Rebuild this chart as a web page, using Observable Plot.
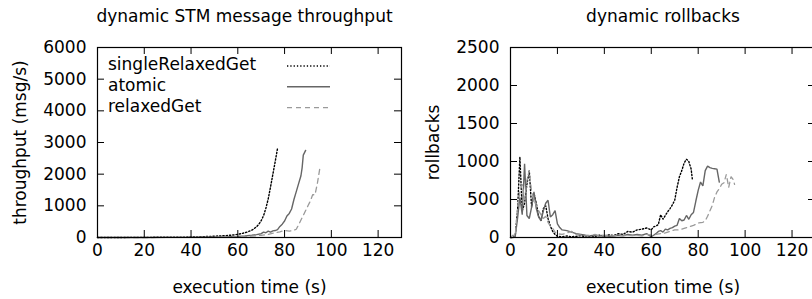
<!DOCTYPE html>
<html>
<head>
<meta charset="utf-8">
<script src="https://cdn.jsdelivr.net/npm/d3@7"></script>
<script src="https://cdn.jsdelivr.net/npm/@observablehq/plot@0.6"></script>
<style>
  html, body { margin: 0; padding: 0; background: #fff; overflow: hidden; }
  #wrap { position: relative; width: 812px; height: 299px; overflow: hidden; }
  #left, #right { position: absolute; top: 0; height: 299px; }
  #left { left: 0; width: 406px; }
  #right { left: 406px; width: 412px; }
  svg { display: block; max-width: none !important; }
</style>
</head>
<body>
<div id="wrap"><div id="left"></div><div id="right"></div></div>
<script>
// ---------- data ----------
const seriesNames = ["singleRelaxedGet", "atomic", "relaxedGet"];
const xTicks = [0, 20, 40, 60, 80, 100, 120];
const thrTicks = [0, 1000, 2000, 3000, 4000, 5000, 6000];
const rbTicks = [0, 500, 1000, 1500, 2000, 2500];

// throughput (msg/s) vs execution time (s)
const thrT_single = [0, 10, 20, 30, 35, 40, 45, 50, 55, 58, 60, 62, 64, 66, 67, 68, 69, 70, 71, 72, 73, 74, 75, 76, 77];
const thrV_single = [0, 2, 4, 8, 10, 15, 25, 40, 60, 80, 100, 130, 170, 230, 280, 340, 420, 530, 690, 920, 1220, 1600, 2000, 2400, 2820];
const thrT_atomic = [0, 10, 20, 30, 40, 45, 50, 55, 60, 63, 66, 68, 70, 71, 72, 73, 74, 75, 76, 77, 78, 79, 80, 81, 82, 83, 84, 85, 86, 87, 87.5, 88, 89];
const thrV_atomic = [0, 0, 2, 3, 5, 8, 12, 20, 35, 50, 70, 90, 120, 170, 150, 200, 170, 210, 220, 250, 350, 420, 520, 680, 760, 900, 1200, 1450, 1700, 1950, 2200, 2600, 2750];
const thrT_relaxed = [0, 10, 20, 30, 40, 50, 55, 60, 65, 70, 73, 76, 78, 80, 82, 84, 85, 86, 87, 88, 89, 90, 91, 92, 93, 94, 95, 96];
const thrV_relaxed = [0, 0, 0, 2, 4, 6, 10, 20, 40, 70, 100, 150, 180, 220, 200, 230, 260, 400, 550, 700, 850, 1000, 1150, 1350, 1350, 1700, 2150, 2100];

// rollbacks vs execution time (s)
const rbT_single = [0, 1, 2, 3, 4, 5, 6, 7, 8, 9, 10, 11, 12, 13, 14, 15, 16, 17, 18, 19, 20, 22, 24, 26, 28, 30, 32, 34, 36, 38, 40, 42, 44, 46, 48, 50, 52, 54, 56, 58, 60, 61, 62, 63, 64, 65, 66, 67, 68, 69, 70, 71, 72, 73, 74, 75, 76, 77, 77.5];
const rbV_single = [0, 0, 20, 350, 1060, 350, 450, 700, 880, 400, 580, 450, 280, 220, 380, 420, 250, 150, 80, 40, 15, 10, 20, 10, 15, 25, 10, 20, 15, 30, 20, 35, 25, 50, 40, 80, 70, 100, 110, 125, 100, 140, 150, 170, 300, 240, 290, 340, 380, 430, 490, 660, 800, 880, 980, 1030, 1000, 900, 770];
const rbT_atomic = [0, 1, 2, 3, 4, 5, 6, 7, 8, 9, 10, 11, 12, 13, 14, 15, 16, 17, 18, 19, 20, 21, 22, 24, 26, 28, 30, 32, 34, 36, 38, 40, 42, 44, 46, 48, 50, 52, 54, 56, 58, 60, 61, 62, 63, 64, 65, 66, 67, 68, 69, 70, 71, 72, 73, 74, 75, 76, 77, 78, 79, 80, 81, 82, 83, 84, 85, 86, 87, 88, 89];
const rbV_atomic = [0, 0, 10, 250, 530, 300, 970, 290, 250, 400, 600, 380, 270, 220, 350, 450, 490, 270, 300, 355, 180, 130, 100, 90, 70, 50, 40, 30, 25, 30, 20, 25, 15, 20, 30, 25, 40, 30, 40, 30, 50, 10, 30, 50, 80, 90, 70, 110, 100, 120, 130, 150, 160, 250, 220, 230, 290, 240, 300, 330, 480, 620, 730, 680, 880, 940, 920, 910, 905, 900, 730];
const rbT_relaxed = [0, 1, 2, 3, 4, 5, 6, 7, 8, 9, 10, 11, 12, 13, 14, 15, 16, 17, 18, 19, 20, 22, 24, 26, 28, 30, 32, 34, 36, 38, 40, 42, 44, 46, 48, 50, 52, 54, 56, 58, 60, 62, 64, 66, 68, 70, 72, 74, 76, 78, 80, 82, 83, 84, 85, 86, 87, 88, 89, 90, 91, 92, 93, 94, 95, 95.5];
const rbV_relaxed = [0, 30, 20, 400, 600, 700, 500, 750, 880, 600, 500, 420, 350, 300, 250, 280, 200, 150, 120, 70, 50, 40, 60, 80, 40, 30, 20, 25, 40, 20, 30, 20, 25, 30, 20, 30, 25, 30, 20, 40, 30, 40, 50, 60, 80, 100, 100, 120, 140, 160, 190, 200, 220, 280, 350, 420, 530, 600, 640, 700, 720, 830, 660, 800, 760, 700];

// ---------- styles ----------
const styles = {
  singleRelaxedGet: {stroke: "#000000", strokeDasharray: "1.3,2", strokeWidth: 1.4},
  atomic: {stroke: "#666666", strokeDasharray: null, strokeWidth: 1.4},
  relaxedGet: {stroke: "#9a9a9a", strokeDasharray: "5,4", strokeWidth: 1.3}
};
const FONT = "DejaVu Sans";
const FS = 17;

function rows(ts, vs) { return ts.map((t, i) => ({t, v: vs[i]})); }

function panel({width, marginLeft, marginRight, yDomain, yTicks, title, titleDx, yLabel, series}) {
  const height = 299, marginTop = 47, marginBottom = 62;
  const innerH = height - marginTop - marginBottom;
  const innerW = width - marginLeft - marginRight;
  const tk = 7;
  const lineMarks = series.map(([name, data]) => {
    const s = styles[name];
    return Plot.line(data, {x: "t", y: "v", stroke: s.stroke, strokeWidth: s.strokeWidth,
      strokeDasharray: s.strokeDasharray, strokeLinejoin: "miter", curve: "linear"});
  });
  return Plot.plot({
    width, height, marginLeft, marginRight, marginTop, marginBottom,
    style: {fontFamily: FONT, fontSize: FS + "px", color: "#000", background: "#fff", overflow: "visible"},
    x: {domain: [0, 130]},
    y: {domain: yDomain},
    marks: [
      ...lineMarks,
      Plot.tickX(xTicks, {x: d => d, insetTop: innerH - tk, stroke: "#000"}),
      Plot.tickX(xTicks, {x: d => d, insetBottom: innerH - tk, stroke: "#000"}),
      Plot.tickY(yTicks, {y: d => d, insetRight: innerW - tk, stroke: "#000"}),
      Plot.tickY(yTicks, {y: d => d, insetLeft: innerW - tk, stroke: "#000"}),
      Plot.frame({stroke: "#000", strokeWidth: 1.2}),
      Plot.axisX({ticks: xTicks, tickSize: 0, tickPadding: 6, label: null, fontSize: FS, tickFormat: d => String(d)}),
      Plot.axisY({ticks: yTicks, tickSize: 0, tickPadding: 11, label: null, fontSize: FS, tickFormat: d => String(d)}),
      Plot.text([title], {frameAnchor: "top", dy: -31, dx: titleDx, lineAnchor: "middle", textAnchor: "middle", fontSize: 17, text: d => d}),
      Plot.text(["execution time (s)"], {frameAnchor: "bottom", dy: 50, lineAnchor: "middle", textAnchor: "middle", fontSize: 17, text: d => d}),
      Plot.text([yLabel], {frameAnchor: "left", dx: -77, rotate: -90, lineAnchor: "middle", textAnchor: "middle", fontSize: 17, text: d => d})
    ]
  });
}

const left = panel({
  width: 406, marginLeft: 97, marginRight: 5,
  yDomain: [0, 6000], yTicks: thrTicks,
  title: "dynamic STM message throughput", titleDx: -5, yLabel: "throughput (msg/s)",
  series: [["singleRelaxedGet", rows(thrT_single, thrV_single)],
           ["atomic", rows(thrT_atomic, thrV_atomic)],
           ["relaxedGet", rows(thrT_relaxed, thrV_relaxed)]]
});
const right = panel({
  width: 412, marginLeft: 104, marginRight: 3,
  yDomain: [0, 2500], yTicks: rbTicks,
  title: "dynamic rollbacks", titleDx: 0, yLabel: "rollbacks",
  series: [["singleRelaxedGet", rows(rbT_single, rbV_single)],
           ["atomic", rows(rbT_atomic, rbV_atomic)],
           ["relaxedGet", rows(rbT_relaxed, rbV_relaxed)]]
});
document.getElementById("left").appendChild(left);
document.getElementById("right").appendChild(right);

// ---------- legend (left panel, top-left inside the frame) ----------
const lg = d3.select(left).append("g").attr("font-family", FONT).attr("font-size", FS).attr("text-anchor", "start");
seriesNames.forEach((name, i) => {
  const s = styles[name];
  const base = 70 + i * 20.8;
  lg.append("text").attr("x", 108).attr("y", base).attr("fill", "#000").attr("text-anchor", "start").text(name);
  lg.append("line").attr("x1", 287).attr("x2", 330).attr("y1", base - 4).attr("y2", base - 4)
    .attr("stroke", s.stroke).attr("stroke-width", s.strokeWidth)
    .attr("stroke-dasharray", s.strokeDasharray);
});
</script>
</body>
</html>
